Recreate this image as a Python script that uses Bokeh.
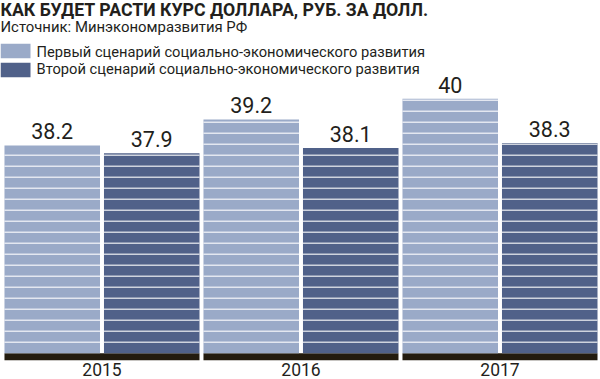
from bokeh.plotting import figure
from bokeh.models import Range1d, FixedTicker, Label
from bokeh.core.properties import value
from bokeh.embed import file_html
from bokeh.resources import INLINE

# ---- data ----
years = ["2015", "2016", "2017"]
scenario1 = [38.2, 39.2, 40.0]
scenario2 = [37.9, 38.1, 38.3]
series_names = ["Первый сценарий социально-экономического развития",
                "Второй сценарий социально-экономического развития"]
title_text = "КАК БУДЕТ РАСТИ КУРС ДОЛЛАРА, РУБ. ЗА ДОЛЛ."
source_text = "Источник: Минэкономразвития РФ"

# ---- style / layout ----
W, H = 600, 379
BOTTOM = 19
LIGHT = "#9aaac8"
DARK = "#506189"
INK = "#231f1c"
BASE_COLOR = "#231b0e"
FONT = "Roboto"
SHIFT = 0.4          # empirical baseline correction (em)

PXU = 25.9           # pixels per value unit
V0 = 30.18           # value at bar baseline
BASE_CY = 352.7      # canvas y of baseline
Y_END = V0 + BASE_CY / PXU
Y_START = Y_END - (H - BOTTOM) / PXU
STEP = 11.0 / PXU    # stripe spacing in value units
X0 = -0.01
X1 = X0 + W / 199.0
PXX = 199.0

def to_y(cy):
    return Y_END - cy / PXU

def to_x(cx):
    return X0 + cx / PXX

p = figure(width=W, height=H, x_range=Range1d(X0, X1), y_range=Range1d(Y_START, Y_END),
           output_backend="svg", toolbar_location=None,
           min_border_left=0, min_border_right=0, min_border_top=0, min_border_bottom=BOTTOM)
p.outline_line_color = None
p.grid.visible = False
p.yaxis.visible = False
p.background_fill_color = "white"
p.border_fill_color = "white"

centers = [i + 0.5 for i in range(len(years))]
x_light = [c - 0.25 for c in centers]
x_dark = [c + 0.25 for c in centers]

# black baseline strips
p.vbar(x=centers, width=0.98, top=V0, bottom=Y_START, color=BASE_COLOR, line_color=None)

# bars
p.vbar(x=x_light, width=0.48, top=scenario1, bottom=V0, color=LIGHT, line_color=None)
p.vbar(x=x_dark, width=0.48, top=scenario2, bottom=V0, color=DARK, line_color=None)

# horizontal stripes
sx0, sx1, sy = [], [], []
for xs, vals in ((x_light, scenario1), (x_dark, scenario2)):
    for x, v in zip(xs, vals):
        k = 1
        while V0 + k * STEP < v - 0.02:
            sx0.append(x - 0.24)
            sx1.append(x + 0.24)
            sy.append(V0 + k * STEP)
            k += 1
p.segment(x0=sx0, y0=sy, x1=sx1, y1=sy, line_color="white", line_alpha=0.72, line_width=1.4)

# value labels
def fmt(v):
    return f"{v:g}"

VAL_FS = 21.5
vals_all = scenario1 + scenario2
p.text(x=x_light + x_dark, y=[v + (5.7 + SHIFT * VAL_FS) / PXU for v in vals_all],
       text=[fmt(v) for v in vals_all],
       text_font=value(FONT), text_font_size=f"{VAL_FS}px", text_color=INK,
       text_align="center", text_baseline="alphabetic")

# x axis (years)
p.xaxis.ticker = FixedTicker(ticks=centers)
p.xaxis.major_label_overrides = {c: y for c, y in zip(centers, years)}
p.xaxis.axis_line_color = None
p.xaxis.major_tick_line_color = None
p.xaxis.minor_tick_line_color = None
p.xaxis.major_tick_out = 0
p.xaxis.major_tick_in = 0
p.xaxis.major_label_standoff = 2
p.xaxis.major_label_text_font = FONT
p.xaxis.major_label_text_font_size = "17.5px"
p.xaxis.major_label_text_color = INK

def add_text(cx, baseline, text, fs, bold=False):
    p.add_layout(Label(x=to_x(cx), y=to_y(baseline - SHIFT * fs), text=text, text_font=FONT,
                       text_font_style="bold" if bold else "normal",
                       text_font_size=f"{fs}px", text_color=INK, text_baseline="alphabetic"))

# title, source
add_text(0, 16.6, title_text, 17.7, bold=True)
add_text(0, 32.0, source_text, 14.9)

# legend
sw_top = [43.3, 62.3]
txt_base = [57.3, 74.0]
for i, (name, col) in enumerate(zip(series_names, [LIGHT, DARK])):
    p.quad(left=to_x(0), right=to_x(30), top=to_y(sw_top[i]), bottom=to_y(sw_top[i] + 14.4),
           color=col, line_color=None)
    add_text(36, txt_base[i], name, 14.7)

open("out.html", "w").write(file_html(p, INLINE))
